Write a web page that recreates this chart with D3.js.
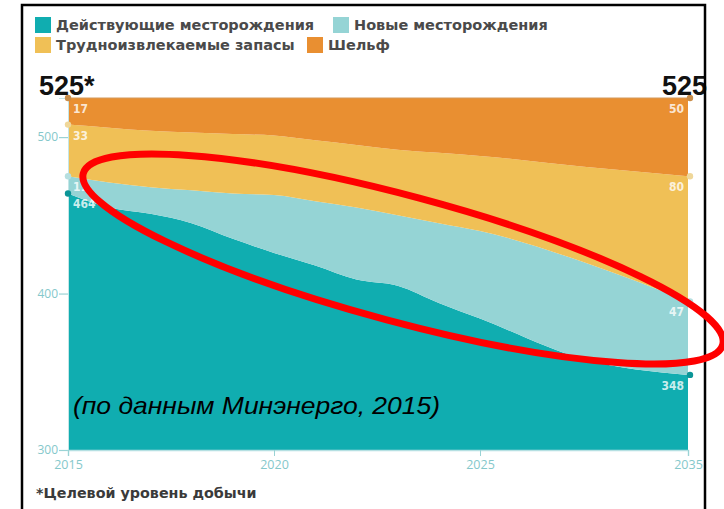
<!DOCTYPE html>
<html><head><meta charset="utf-8">
<script src="https://cdn.jsdelivr.net/npm/d3@7/dist/d3.min.js"></script>
<style>
html,body{margin:0;padding:0;background:#fff;}
svg{display:block;}
</style></head>
<body>
<svg id="chart" width="724" height="509"></svg>
<script>
// ---- data ----
const years      = [2015,2016,2017,2018,2019,2020,2021,2022,2023,2024,2025,2030,2035];
const existing   = [464,455,451,445,435,426,418,409,405,394,384,358,348];
const newFields  = [11,16,17,21,29,37,41,46,45,51,56,62,47];
const hardToGet  = [33,35,36,37,38,38,39,40,42,45,48,61,80];
const shelf      = [17,19,21,22,23,24,27,30,33,35,37,44,50];
const seriesKeys   = ["existing","newFields","hardToGet","shelf"];
const seriesNames  = ["Действующие месторождения","Новые месторождения","Трудноизвлекаемые запасы","Шельф"];
const seriesColors = ["#10adb0","#95d4d5","#f0c056","#e98f31"];
const dotColors    = ["#0b9597","#b6dfe0","#efd79a","#c98d49"];
const yTicks = [300,400,500];
const xTicks = [2015,2020,2025,2035];
const target = 525;

const svg = d3.select("#chart");
const x = d3.scaleLinear().domain([2015,2025,2035]).range([68,480,688]);
const y = d3.scaleLinear().domain([300,525]).range([450,98]).clamp(true);

const table = years.map((yr,i)=>({year:yr, existing:existing[i], newFields:newFields[i], hardToGet:hardToGet[i], shelf:shelf[i]}));
const stacked = d3.stack().keys(seriesKeys)(table);

const area = d3.area()
  .x(d=>x(d.data.year))
  .y0(d=>y(d[0]))
  .y1(d=>y(d[1]))
  .curve(d3.curveMonotoneX);

svg.append("g").selectAll("path").data(stacked).join("path")
  .attr("d",area)
  .attr("fill",(d,i)=>seriesColors[i]);

// top edge line
svg.append("path")
  .attr("d", d3.line().x(d=>x(d.data.year)).y(d=>y(d[1])).curve(d3.curveMonotoneX)(stacked[3]))
  .attr("fill","none").attr("stroke","#d49a5c").attr("stroke-width",1.2);

// y axis
const yAxis = svg.append("g").attr("transform","translate(68,0)")
  .call(d3.axisLeft(y).tickValues(yTicks).tickSize(9).tickPadding(1).tickFormat(d3.format("d")));
yAxis.select(".domain").attr("stroke","#c4e6e7").attr("stroke-width",1);
yAxis.selectAll("line").attr("stroke","#9ad3d5").attr("stroke-width",1.2);
yAxis.selectAll("text").attr("fill","#85c8cb").style("font","12px 'Open Sans', sans-serif");

// x axis
const xAxis = svg.append("g").attr("transform","translate(0,450)")
  .call(d3.axisBottom(x).tickValues(xTicks).tickSize(6).tickPadding(4).tickFormat(d3.format("d")));
xAxis.select(".domain").attr("stroke","#b5e0e2").attr("stroke-width",1.5);
xAxis.selectAll("line").attr("stroke","#9ad3d5");
xAxis.selectAll("text").attr("fill","#85c8cb").style("font","12.5px 'Open Sans', sans-serif");

// end dots and value labels
const first = 0, last = years.length-1;
stacked.forEach((s,i)=>{
  [first,last].forEach(idx=>{
    const d = s[idx];
    const cx = idx===first ? x(d.data.year) : x(d.data.year)+2;
    svg.append("circle").attr("cx",cx).attr("cy",y(d[1])).attr("r",3.2)
      .attr("fill",dotColors[i]);
    svg.append("text")
      .attr("x", idx===first ? x(d.data.year)+5 : x(d.data.year)-4)
      .attr("y", y(d[1])+15)
      .attr("text-anchor", idx===first ? "start" : "end")
      .attr("fill","#ffffff").attr("fill-opacity",0.8)
      .style("font","bold 12px 'DejaVu Sans Condensed','DejaVu Sans', sans-serif")
      .text(d.data[seriesKeys[i]]);
  });
});

// totals
svg.append("text").attr("x",39).attr("y",95)
  .style("font","bold 27px 'Liberation Sans', Arial, sans-serif").attr("fill","#111")
  .text(target+"*");
svg.append("text").attr("x",707).attr("y",95).attr("text-anchor","end")
  .style("font","bold 27px 'Liberation Sans', Arial, sans-serif").attr("fill","#111")
  .text(target);

// legend
const legendPos = [[35,17],[333,17],[35,37],[307,37]];
seriesNames.forEach((n,i)=>{
  const [lx,ly] = legendPos[i];
  svg.append("rect").attr("x",lx).attr("y",ly).attr("width",16).attr("height",16).attr("fill",seriesColors[i]);
  svg.append("text").attr("x",lx+21).attr("y",ly+13)
    .style("font","bold 14.5px 'DejaVu Sans', sans-serif").attr("fill","#4a4a4a")
    .text(n);
});

// footnote
svg.append("text").attr("x",36).attr("y",498)
  .style("font","bold 14.3px 'DejaVu Sans', sans-serif").attr("fill","#3a3a3a")
  .text("*Целевой уровень добычи");

// source annotation
svg.append("text").attr("x",73).attr("y",414)
  .attr("textLength",367).attr("lengthAdjust","spacingAndGlyphs")
  .style("font","italic 24px 'Liberation Sans', Arial, sans-serif").attr("fill","#000")
  .text("(по данным Минэнерго, 2015)");

// frame
svg.append("rect").attr("x",22).attr("y",5).attr("width",683).attr("height",520)
  .attr("fill","none").attr("stroke","#000").attr("stroke-width",2.5);

// red highlight ellipse
svg.append("ellipse").attr("cx",403).attr("cy",259).attr("rx",331).attr("ry",63)
  .attr("transform","rotate(15,403,259)")
  .attr("fill","none").attr("stroke","#ff0000").attr("stroke-width",7);
</script>
</body></html>
